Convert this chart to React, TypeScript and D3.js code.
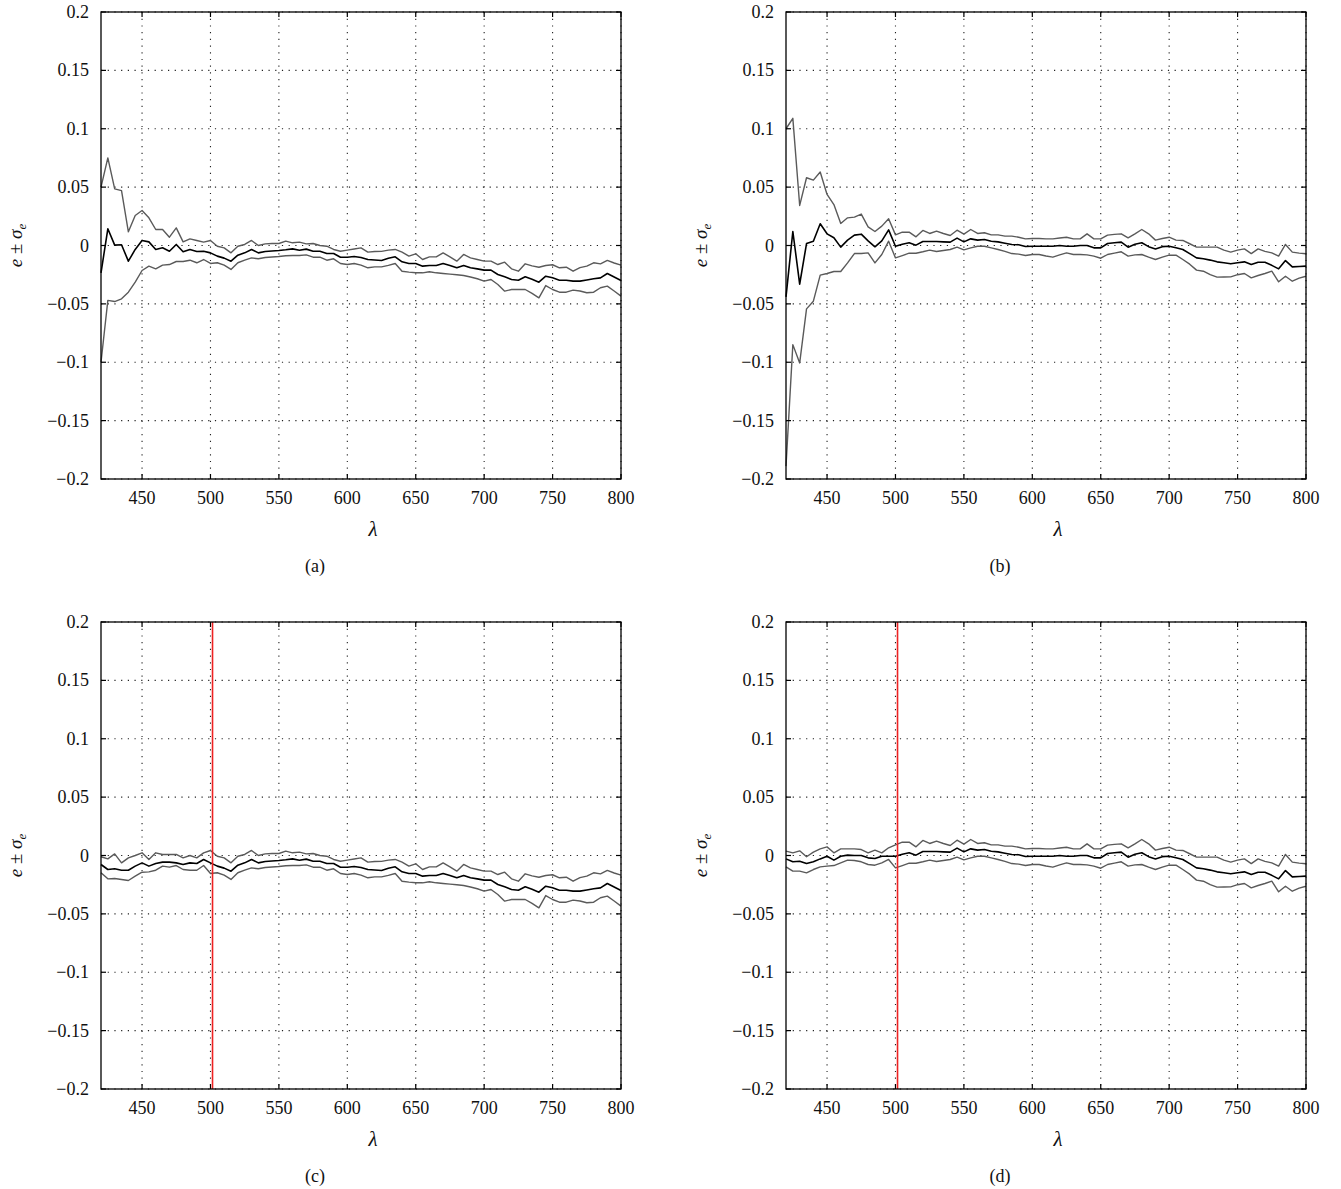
import React from 'react';
import * as d3 from 'd3';

const wavelengths = [
  420, 425, 430, 435, 440, 445, 450, 455, 460, 465, 470, 475, 480, 485, 490, 495,
  500, 505, 510, 515, 520, 525, 530, 535, 540, 545, 550, 555, 560, 565, 570, 575, 580, 585, 590, 595,
  600, 605, 610, 615, 620, 625, 630, 635, 640, 645, 650, 655, 660, 665, 670, 675, 680, 685, 690, 695,
  700, 705, 710, 715, 720, 725, 730, 735, 740, 745, 750, 755, 760, 765, 770, 775, 780, 785, 790, 795,
  800,
];

const xTicks = [450, 500, 550, 600, 650, 700, 750, 800];
const yTicks = [-0.2, -0.15, -0.1, -0.05, 0, 0.05, 0.1, 0.15, 0.2];
const yTickLabels = ['\u22120.2', '\u22120.15', '\u22120.1', '\u22120.05', '0', '0.05', '0.1', '0.15', '0.2'];

// Panel (a)
const aUpper = [
  0.05, 0.075, 0.0485, 0.047, 0.0117, 0.0257, 0.03, 0.0237, 0.0137, 0.0137, 0.0071, 0.0151, 0.0031, 0.0057, 0.0043, 0.0029,
  0.0043, -0.0006, -0.002, -0.0063, -0.0006, 0.0009, 0.0043, 0.0, 0.0014, 0.0017, 0.0017, 0.0037, 0.0023, 0.0029, 0.0014, 0.0017, 0.0, -0.0006, -0.0034, -0.0049,
  -0.004, -0.003, -0.002, -0.0057, -0.0052, -0.005, -0.004, -0.0034, -0.0057, -0.0091, -0.0071, -0.012, -0.0097, -0.0097, -0.0063, -0.0097, -0.0134, -0.0077, -0.0106, -0.012,
  -0.0134, -0.0134, -0.0163, -0.0143, -0.02, -0.022, -0.0157, -0.0175, -0.0186, -0.0171, -0.0165, -0.0191, -0.0186, -0.022, -0.019, -0.0177, -0.0148, -0.0157, -0.0128, -0.015,
  -0.0168,
];
const aMean = [
  -0.0234, 0.0143, 0.0003, 0.0006, -0.0134, -0.0034, 0.0043, 0.0031, -0.0034, -0.002, -0.0049, 0.0009, -0.0054, -0.0034, -0.0051, -0.0049,
  -0.0063, -0.0091, -0.0108, -0.0134, -0.0083, -0.0063, -0.0034, -0.0063, -0.0051, -0.0047, -0.0043, -0.0037, -0.0029, -0.004, -0.0031, -0.0049, -0.0049, -0.0068, -0.0068, -0.01,
  -0.01, -0.0094, -0.0103, -0.012, -0.0124, -0.0128, -0.011, -0.0097, -0.014, -0.0154, -0.0154, -0.0177, -0.0171, -0.0171, -0.0154, -0.0171, -0.0191, -0.0171, -0.0191, -0.02,
  -0.0211, -0.0211, -0.0248, -0.0268, -0.0291, -0.0297, -0.0268, -0.029, -0.0314, -0.0263, -0.0277, -0.0297, -0.0297, -0.0305, -0.0305, -0.0295, -0.0285, -0.0277, -0.024, -0.027,
  -0.03,
];
const aLower = [
  -0.1, -0.047, -0.048, -0.0457, -0.04, -0.0314, -0.0214, -0.0177, -0.02, -0.0168, -0.0163, -0.0137, -0.0137, -0.0126, -0.0148, -0.012,
  -0.0154, -0.0148, -0.0168, -0.0205, -0.0148, -0.0126, -0.0106, -0.0114, -0.0103, -0.0098, -0.0094, -0.0088, -0.0086, -0.0086, -0.008, -0.01, -0.01, -0.0126, -0.0114, -0.0154,
  -0.0163, -0.0154, -0.0168, -0.0191, -0.0183, -0.0183, -0.017, -0.0154, -0.022, -0.0228, -0.0234, -0.0234, -0.0225, -0.0234, -0.024, -0.0245, -0.0251, -0.0257, -0.027, -0.0285,
  -0.0305, -0.0291, -0.0334, -0.0391, -0.0377, -0.0377, -0.0377, -0.041, -0.0448, -0.0343, -0.0377, -0.04, -0.04, -0.0382, -0.039, -0.0405, -0.04, -0.0362, -0.0348, -0.039,
  -0.0434,
];

// Panel (b)
const bUpper = [
  0.1, 0.1089, 0.0343, 0.058, 0.056, 0.0629, 0.0437, 0.0351, 0.0189, 0.0237, 0.0243, 0.0269, 0.016, 0.012, 0.0166, 0.0229,
  0.0091, 0.0114, 0.0114, 0.0074, 0.0129, 0.0103, 0.0123, 0.0103, 0.0086, 0.0131, 0.0097, 0.0137, 0.0103, 0.0109, 0.0091, 0.0091, 0.008, 0.008, 0.0071, 0.0057,
  0.006, 0.006, 0.0057, 0.0057, 0.0064, 0.0071, 0.0057, 0.0057, 0.01, 0.0057, 0.0057, 0.0089, 0.0095, 0.01, 0.0066, 0.01, 0.0137, 0.01, 0.0046, 0.006,
  0.0071, 0.0046, 0.0043, 0.0015, -0.0014, -0.0014, -0.0014, -0.0014, -0.004, -0.0057, -0.004, -0.0029, -0.0069, -0.0029, -0.005, -0.0063, -0.0091, 0.0009, -0.0057, -0.0065,
  -0.0071,
];
const bMean = [
  -0.044, 0.012, -0.0331, 0.0017, 0.0037, 0.0186, 0.01, 0.0066, -0.0014, 0.0046, 0.0089, 0.0097, 0.004, -0.0011, 0.004, 0.0134,
  -0.0006, 0.0011, 0.0023, 0.0003, 0.0034, 0.0034, 0.0034, 0.0031, 0.0029, 0.0063, 0.0031, 0.0057, 0.0046, 0.0051, 0.0037, 0.0031, 0.002, 0.0009, 0.0006, -0.0009,
  -0.0006, -0.0006, -0.0006, -0.0006, 0.0, -0.0006, -0.0006, 0.0, 0.0, -0.002, -0.002, 0.0017, 0.0023, 0.0029, -0.0014, 0.001, 0.0023, -0.001, -0.0029, -0.001,
  -0.0006, -0.002, -0.0034, -0.007, -0.0106, -0.0114, -0.0125, -0.014, -0.0148, -0.0157, -0.0148, -0.014, -0.0163, -0.0143, -0.0143, -0.017, -0.02, -0.0129, -0.0183, -0.018,
  -0.0177,
];
const bLower = [
  -0.189, -0.0849, -0.1006, -0.0543, -0.0477, -0.0254, -0.024, -0.0223, -0.0223, -0.0149, -0.0069, -0.0069, -0.0063, -0.0149, -0.0077, 0.0037,
  -0.0106, -0.0086, -0.0066, -0.0066, -0.0054, -0.004, -0.0051, -0.0043, -0.0034, -0.0014, -0.0037, -0.002, -0.0006, -0.0006, -0.002, -0.0034, -0.005, -0.0069, -0.0074, -0.0086,
  -0.0077, -0.0077, -0.009, -0.01, -0.008, -0.0063, -0.0077, -0.0077, -0.008, -0.0091, -0.0109, -0.0077, -0.0065, -0.0054, -0.0091, -0.008, -0.0077, -0.01, -0.012, -0.01,
  -0.0083, -0.0083, -0.012, -0.016, -0.0211, -0.022, -0.025, -0.0271, -0.027, -0.0269, -0.025, -0.024, -0.0277, -0.0257, -0.024, -0.022, -0.0311, -0.0263, -0.0306, -0.028,
  -0.0263,
];

// Panels (c) and (d): first 16 samples (420–495 nm) differ; the rest equals (a) / (b)
const cUpperStart = [-0.0011, -0.0029, 0.0014, -0.0063, -0.002, 0.0, 0.0023, -0.0034, 0.0023, 0.0009, 0.0009, 0.0009, -0.002, 0.0, -0.002, 0.0023];
const cMeanStart = [-0.0077, -0.012, -0.0114, -0.0126, -0.0126, -0.0091, -0.0063, -0.0091, -0.0069, -0.0057, -0.0057, -0.0063, -0.0077, -0.0063, -0.0069, -0.0034];
const cLowerStart = [-0.0148, -0.02, -0.0197, -0.0205, -0.0214, -0.0177, -0.0143, -0.014, -0.0126, -0.0091, -0.01, -0.0086, -0.012, -0.0126, -0.0126, -0.0086];
const dUpperStart = [0.0037, 0.0023, 0.004, -0.0011, 0.0029, 0.0057, 0.0074, 0.0023, 0.0057, 0.0057, 0.0057, 0.0051, 0.0023, 0.0046, 0.0023, 0.0066];
const dMeanStart = [-0.0029, -0.0054, -0.0049, -0.0069, -0.0054, -0.0029, -0.0006, -0.004, -0.0006, 0.0003, 0.0, 0.0, -0.002, -0.0026, -0.0006, -0.0006];
const dLowerStart = [-0.0097, -0.0134, -0.0134, -0.0149, -0.012, -0.0097, -0.0091, -0.0086, -0.0063, -0.004, -0.0043, -0.0054, -0.0077, -0.0083, -0.0063, -0.0034];

const markerWavelength = 501.5;

const FONT = "'Liberation Serif', 'Times New Roman', Times, 'DejaVu Serif', serif";
const textStyle: React.CSSProperties = { fontFamily: FONT };

interface PanelProps {
  left: number;
  top: number;
  upper: number[];
  mean: number[];
  lower: number[];
  marker?: number;
  caption: string;
  xLabelX: number;
  captionX: number;
  yLabelX: number;
}

function Panel({ left, top, upper, mean, lower, marker, caption, xLabelX, captionX, yLabelX }: PanelProps) {
  const W = 520;
  const H = 467;
  const x = d3.scaleLinear().domain([420, 800]).range([left, left + W]);
  const y = d3.scaleLinear().domain([-0.2, 0.2]).range([top + H, top]);
  const line = d3
    .line<number>()
    .x((_, i) => x(wavelengths[i]))
    .y((d) => y(d));
  const tickLen = 5;
  return (
    <g>
      {xTicks.map((t) => (
        <line key={'gx' + t} x1={x(t)} x2={x(t)} y1={top} y2={top + H} stroke="#222" strokeWidth={1.1} strokeDasharray="1.2 5.5" />
      ))}
      {yTicks.map((t) => (
        <line key={'gy' + t} x1={left} x2={left + W} y1={y(t)} y2={y(t)} stroke="#222" strokeWidth={1.1} strokeDasharray="1.2 5.5" />
      ))}
      <path d={line(upper) || ''} fill="none" stroke="#5a5a5a" strokeWidth={1.4} strokeLinejoin="round" />
      <path d={line(lower) || ''} fill="none" stroke="#5a5a5a" strokeWidth={1.4} strokeLinejoin="round" />
      <path d={line(mean) || ''} fill="none" stroke="#000" strokeWidth={1.6} strokeLinejoin="round" />
      {marker !== undefined && (
        <line x1={x(marker)} x2={x(marker)} y1={top} y2={top + H} stroke="#ee2222" strokeWidth={1.6} />
      )}
      <rect x={left} y={top} width={W} height={H} fill="none" stroke="#000" strokeWidth={1.3} />
      {xTicks.map((t) => (
        <g key={'tx' + t}>
          <line x1={x(t)} x2={x(t)} y1={top + H} y2={top + H - tickLen} stroke="#000" strokeWidth={1.2} />
          <line x1={x(t)} x2={x(t)} y1={top} y2={top + tickLen} stroke="#000" strokeWidth={1.2} />
          <text x={x(t)} y={top + H + 25} textAnchor="middle" style={textStyle} fontSize={18} fill="#111">
            {t}
          </text>
        </g>
      ))}
      {yTicks.map((t, i) => (
        <g key={'ty' + t}>
          <line x1={left} x2={left + tickLen} y1={y(t)} y2={y(t)} stroke="#000" strokeWidth={1.2} />
          <line x1={left + W} x2={left + W - tickLen} y1={y(t)} y2={y(t)} stroke="#000" strokeWidth={1.2} />
          <text x={left - 12} y={y(t) + 6} textAnchor="end" style={textStyle} fontSize={18} fill="#111">
            {yTickLabels[i]}
          </text>
        </g>
      ))}
      <text x={xLabelX} y={top + H + 57} textAnchor="middle" style={textStyle} fontSize={21} fontStyle="italic" fill="#111">
        λ
      </text>
      <text
        transform={`translate(${yLabelX},${top + H / 2}) rotate(-90)`}
        textAnchor="middle"
        style={textStyle}
        fontSize={19}
        fill="#111"
      >
        <tspan fontStyle="italic">e</tspan>
        <tspan> ± </tspan>
        <tspan fontStyle="italic">σ</tspan>
        <tspan fontStyle="italic" fontSize={13} dy={4}>e</tspan>
      </text>
      <text x={captionX} y={top + H + 93} textAnchor="middle" style={textStyle} fontSize={18} fill="#111">
        {caption}
      </text>
    </g>
  );
}

export default function App() {
  const cUpper = cUpperStart.concat(aUpper.slice(16));
  const cMean = cMeanStart.concat(aMean.slice(16));
  const cLower = cLowerStart.concat(aLower.slice(16));
  const dUpper = dUpperStart.concat(bUpper.slice(16));
  const dMean = dMeanStart.concat(bMean.slice(16));
  const dLower = dLowerStart.concat(bLower.slice(16));
  return (
    <svg
      width={1341}
      height={1189}
      viewBox="0 0 1341 1189"
      style={{ position: 'absolute', left: 0, top: 0, background: '#fff' }}
    >
      <rect x={0} y={0} width={1341} height={1189} fill="#fff" />
      <Panel left={101} top={12} upper={aUpper} mean={aMean} lower={aLower} caption="(a)" xLabelX={373} captionX={315} yLabelX={22} />
      <Panel left={786} top={12} upper={bUpper} mean={bMean} lower={bLower} caption="(b)" xLabelX={1058} captionX={1000} yLabelX={707} />
      <Panel left={101} top={622} upper={cUpper} mean={cMean} lower={cLower} marker={markerWavelength} caption="(c)" xLabelX={373} captionX={315} yLabelX={22} />
      <Panel left={786} top={622} upper={dUpper} mean={dMean} lower={dLower} marker={markerWavelength} caption="(d)" xLabelX={1058} captionX={1000} yLabelX={707} />
    </svg>
  );
}
